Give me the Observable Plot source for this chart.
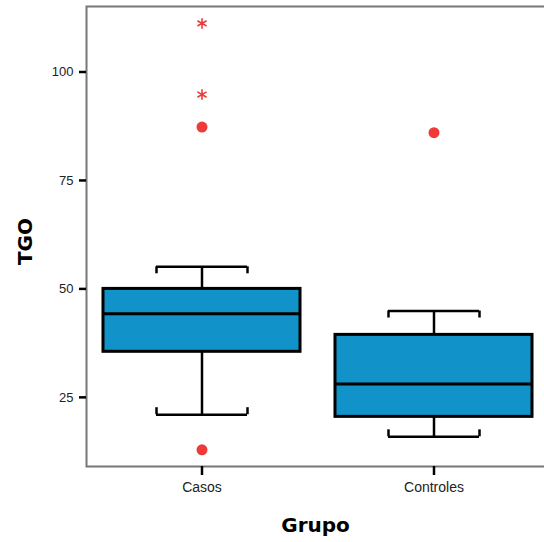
<!DOCTYPE html>
<html>
<head>
<meta charset="utf-8">
<script src="https://cdn.jsdelivr.net/npm/d3@7"></script>
<script src="https://cdn.jsdelivr.net/npm/@observablehq/plot@0.6"></script>
<style>
  html, body { margin: 0; padding: 0; background: #fff; overflow: hidden; }
  #chart { width: 544px; height: 542px; overflow: hidden; }
  #chart svg { overflow: hidden; }
</style>
</head>
<body>
<div id="chart"></div>
<script>
const groups = ["Casos", "Controles"];
const whiskerLow = [21.0, 15.9];
const q1 = [35.5, 20.5];
const median = [44.3, 28.1];
const q3 = [50.0, 39.4];
const whiskerHigh = [55.1, 44.9];

const outlierGroup = ["Casos", "Casos", "Controles"];
const outlierValue = [87.3, 12.9, 86.0];

const extremeGroup = ["Casos", "Casos"];
const extremeValue = [94.8, 111.2];

const yTicks = [25, 50, 75, 100];

const rows = groups.map((g, i) => ({group: g, lo: whiskerLow[i], q1: q1[i], med: median[i], q3: q3[i], hi: whiskerHigh[i]}));
const outliers = outlierGroup.map((g, i) => ({group: g, value: outlierValue[i]}));
const extremes = extremeGroup.map((g, i) => ({group: g, value: extremeValue[i]}));

const boxFill = "#1192c8";
const red = "#ef3a3a";

const chart = Plot.plot({
  width: 544,
  height: 542,
  marginLeft: 86,
  marginRight: -8,
  marginTop: 6,
  marginBottom: 76,
  style: {fontFamily: "'Liberation Sans', Arial, sans-serif", background: "#fff", overflow: "hidden"},
  x: {type: "band", domain: groups, range: [86, 550], paddingInner: 0.15, paddingOuter: 0.075},
  y: {domain: [9.06, 115.1]},
  marks: [
    Plot.frame({stroke: "#777", strokeWidth: 2}),
    Plot.axisY({ticks: yTicks, tickSize: 7, tickPadding: 6, strokeWidth: 2.5, stroke: "#000", fill: "#222", fontSize: 13, label: null}),
    Plot.axisX({tickSize: 9, tickPadding: 7, strokeWidth: 2.5, stroke: "#000", fill: "#222", fontSize: 14, label: null}),
    // whiskers
    Plot.ruleX(rows, {x: "group", y1: "q3", y2: "hi", stroke: "#000", strokeWidth: 2.5}),
    Plot.ruleX(rows, {x: "group", y1: "lo", y2: "q1", stroke: "#000", strokeWidth: 2.5}),
    // caps
    Plot.tickY(rows, {x: "group", y: "hi", insetLeft: 53, insetRight: 53, stroke: "#000", strokeWidth: 2.5}),
    Plot.tickY(rows, {x: "group", y: "lo", insetLeft: 53, insetRight: 53, stroke: "#000", strokeWidth: 2.5}),
    Plot.ruleX(rows, {x: "group", y1: "hi", y2: "hi", dx: -45.5, insetBottom: -7, stroke: "#000", strokeWidth: 2.5}),
    Plot.ruleX(rows, {x: "group", y1: "hi", y2: "hi", dx: 45.5, insetBottom: -7, stroke: "#000", strokeWidth: 2.5}),
    Plot.ruleX(rows, {x: "group", y1: "lo", y2: "lo", dx: -45.5, insetTop: -7, stroke: "#000", strokeWidth: 2.5}),
    Plot.ruleX(rows, {x: "group", y1: "lo", y2: "lo", dx: 45.5, insetTop: -7, stroke: "#000", strokeWidth: 2.5}),
    // boxes
    Plot.barY(rows, {x: "group", y1: "q1", y2: "q3", fill: boxFill, stroke: "#000", strokeWidth: 3}),
    Plot.tickY(rows, {x: "group", y: "med", stroke: "#000", strokeWidth: 3}),
    // outliers
    Plot.dot(outliers, {x: "group", y: "value", r: 5.5, fill: red, stroke: "none"}),
    Plot.dot(extremes, {x: "group", y: "value", symbol: "asterisk", r: 5, stroke: red, strokeWidth: 1.6}),
    // axis titles
    Plot.text([0], {frameAnchor: "left", textAnchor: "middle", text: () => "TGO", rotate: -90, dx: -61, dy: 5, fontSize: 20, fontWeight: "bold", fontFamily: "'DejaVu Sans', sans-serif", fill: "#000"}),
    Plot.text([0], {frameAnchor: "bottom", textAnchor: "middle", text: () => "Grupo", dx: -4, dy: 65, fontSize: 20, fontWeight: "bold", fontFamily: "'DejaVu Sans', sans-serif", fill: "#000"})
  ]
});
document.getElementById("chart").append(chart);
</script>
</body>
</html>
